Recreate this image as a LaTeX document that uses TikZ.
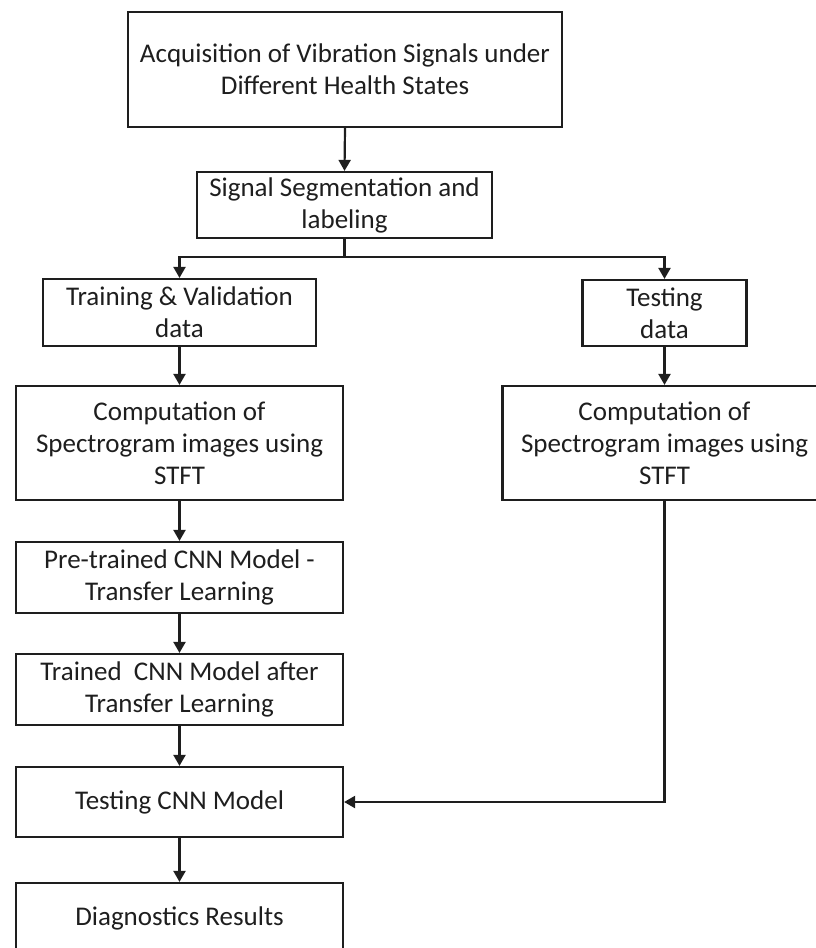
\documentclass[tikz,border=0pt]{standalone}
\usepackage{fontspec}
\setmainfont{Carlito}
\usetikzlibrary{arrows.meta}
\definecolor{ink}{HTML}{1E1E1E}
\begin{document}
\begin{tikzpicture}[x=1pt,y=-1pt,
  box/.style={draw=ink,line width=2.2pt,align=center,inner sep=0pt,
    font=\fontsize{27}{32}\selectfont,text=ink},
  link/.style={draw=ink,line width=2.2pt},
  flow/.style={link,-{Triangle[length=11pt,width=12pt]}}]
\useasboundingbox (0,0) rectangle (816,948);
\clip (0,0) rectangle (816,948);
% process boxes
\node[box,minimum width=434pt,minimum height=115pt] (acq) at (345,69.5)
  {Acquisition of Vibration Signals under\\Different Health States};
\node[box,minimum width=295pt,minimum height=66pt] (seg) at (344.5,205)
  {Signal Segmentation and\\labeling};
\node[box,minimum width=273pt,minimum height=67pt] (train) at (179.5,312.5)
  {Training \& Validation\\data};
\node[box,minimum width=164pt,minimum height=66pt] (test) at (664.5,313)
  {Testing\\data};
\node[box,minimum width=327pt,minimum height=114pt] (compL) at (179.5,443)
  {Computation of\\Spectrogram images using\\STFT};
\node[box,minimum width=324pt,minimum height=114pt] (compR) at (664.5,443)
  {Computation of\\Spectrogram images using\\STFT};
\node[box,minimum width=327pt,minimum height=71pt] (pre) at (179.5,577.5)
  {Pre-trained CNN Model -\\Transfer Learning};
\node[box,minimum width=327pt,minimum height=71pt] (trained) at (179.5,689.5)
  {Trained\ \ CNN Model after\\Transfer Learning};
\node[box,minimum width=327pt,minimum height=70pt] (testcnn) at (179.5,802)
  {Testing CNN Model};
\node[box,minimum width=327pt,minimum height=70pt] (diag) at (179.5,918)
  {Diagnostics Results};
% connectors
\coordinate (split) at (344.5,257);
\draw[flow] (acq.south) -- (seg.north);
\draw[link] (seg.south) -- (split);
\draw[flow] (split) -| (train.north);
\draw[flow] (split) -| (test.north);
\draw[flow] (train) -- (compL);
\draw[flow] (test) -- (compR);
\draw[flow] (compL) -- (pre);
\draw[flow] (pre) -- (trained);
\draw[flow] (trained) -- (testcnn);
\draw[flow] (testcnn) -- (diag);
\draw[flow] (compR.south) |- (testcnn.east);
\end{tikzpicture}
\end{document}
